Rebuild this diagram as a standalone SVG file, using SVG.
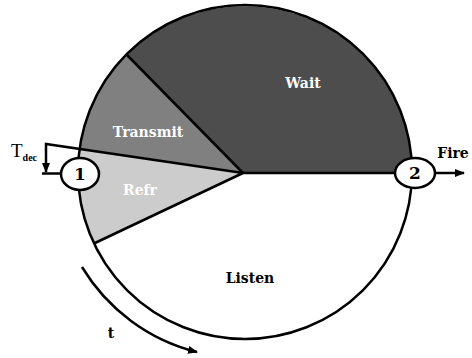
<svg xmlns="http://www.w3.org/2000/svg" width="472" height="358" viewBox="0 0 472 358">
<style>
.ln{fill:none;stroke:#000;stroke-width:2.5}
.lbl{font-family:"DejaVu Serif","Liberation Serif",serif;font-weight:bold;font-size:14px;text-anchor:middle}
.w{fill:#fff}
.k{fill:#000}
.node{fill:#fff;stroke:#000;stroke-width:2.5}
</style>
<defs>
<marker id="ah" markerWidth="10" markerHeight="8" refX="9" refY="4" orient="auto" markerUnits="userSpaceOnUse">
<path d="M0,0 L10,4 L0,8 Z" fill="#000"/>
</marker>
</defs>
<rect width="472" height="358" fill="#fff"/>
<g id="sectors">
<path id="wait" d="M243,173 L127,55 A167,167 0 0 1 412,173 Z" fill="#4d4d4d"/>
<path id="transmit" d="M243,173 L80,149 A167,167 0 0 1 127,55 Z" fill="#808080"/>
<path id="refr" d="M243,173 L95,243 A167,167 0 0 1 80,149 Z" fill="#cccccc"/>
<path id="listen" d="M243,173 L412,173 A167,167 0 0 1 95,243 Z" fill="#fff"/>
</g>
<g id="connectors">
<circle class="ln" cx="245" cy="172" r="167"/>
<line class="ln" x1="243" y1="173" x2="127" y2="55"/>
<line class="ln" x1="243" y1="173" x2="95" y2="243"/>
<line class="ln" x1="243" y1="173" x2="412" y2="173"/>
<polyline class="ln" points="243,173 46,144 46,172" marker-end="url(#ah)"/>
<line class="ln" x1="42" y1="173.5" x2="62" y2="173.5"/>
<line class="ln" x1="434" y1="173" x2="464" y2="173" marker-end="url(#ah)"/>
<path class="ln" d="M82,267 A187,187 0 0 0 197,352" marker-end="url(#ah)"/>
</g>
<g id="node1">
<ellipse class="node" cx="80" cy="174" rx="19" ry="16"/>
<text class="lbl k" x="80" y="180" style="font-size:17px">1</text>
</g>
<g id="node2">
<ellipse class="node" cx="415" cy="173" rx="20" ry="15"/>
<text class="lbl k" x="415" y="179" style="font-size:17px">2</text>
</g>
<g id="labels">
<text class="lbl w" x="303" y="88">Wait</text>
<text class="lbl w" x="148" y="137">Transmit</text>
<text class="lbl w" x="140" y="195">Refr</text>
<text class="lbl k" x="250" y="283">Listen</text>
<text class="lbl k" x="453" y="158">Fire</text>
<text class="lbl k" x="111" y="338">t</text>
<text x="11" y="157" style="font-family:'Liberation Serif',serif;font-size:19px">T<tspan dy="4" font-size="10" font-weight="bold">dec</tspan></text>
</g>
</svg>
